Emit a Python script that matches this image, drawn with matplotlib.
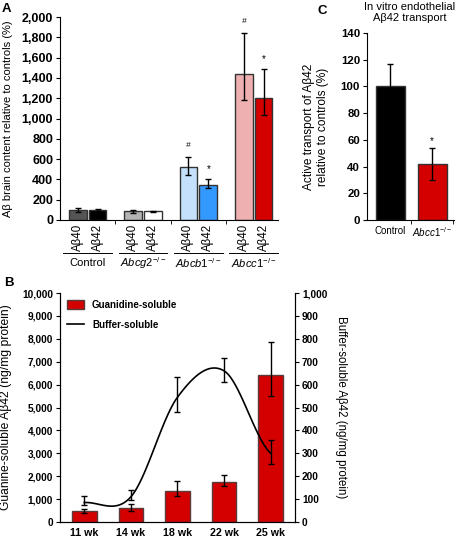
import matplotlib
matplotlib.use('Agg')
import matplotlib.pyplot as plt
import numpy as np
from matplotlib.ticker import FuncFormatter
from matplotlib.patches import Patch
from matplotlib.lines import Line2D
import matplotlib.transforms as mtransforms

plt.rcParams['font.family'] = ['Liberation Sans', 'DejaVu Sans']
plt.rcParams['mathtext.fontset'] = 'custom'
plt.rcParams['mathtext.rm'] = 'Liberation Sans'
plt.rcParams['mathtext.it'] = 'Liberation Sans:italic'
plt.rcParams['font.size'] = 8

# ---- panel A data
groups_a = ['Control', r'$\mathit{Abcg2}^{-/-}$', r'$\mathit{Abcb1}^{-/-}$', r'$\mathit{Abcc1}^{-/-}$']
peptides = ['Aβ40', 'Aβ42']
ab40 = [100, 85, 520, 1440]
ab40_lo = [80, 68, 443, 1180]
ab40_hi = [118, 98, 621, 1839]
ab42 = [100, 85, 348, 1205]
ab42_lo = [90, 78, 312, 1034]
ab42_hi = [112, 92, 400, 1484]
col40 = ['#555555', '#b4b4b4', '#c5e0fa', '#eeb0b0']
col42 = ['#000000', '#ffffff', '#3399ff', '#d40000']
mark40 = ['', '', '#', '#']
mark42 = ['', '', '*', '*']

# ---- panel B data
weeks = ['11 wk', '14 wk', '18 wk', '22 wk', '25 wk']
guan = [470, 600, 1350, 1750, 6400]
guan_lo = [380, 490, 1150, 1560, 5500]
guan_hi = [550, 780, 1770, 2070, 7880]
buf = [85, 110, 545, 660, 300]
buf_lo = [75, 95, 480, 610, 255]
buf_hi = [115, 140, 635, 715, 360]

# ---- panel C data
groups_c = ['Control', r'$\mathit{Abcc1}^{-/-}$']
transport = [100, 42]
transport_err = [17, 12]
col_c = ['#000000', '#d40000']

fig = plt.figure(figsize=(4.58, 5.4), dpi=100)
comma = FuncFormatter(lambda v, p: '{:,.0f}'.format(v))

# ================= A
axA = fig.add_axes([0.131, 0.5926, 0.476, 0.3759])
x = np.arange(len(groups_a))
off = 0.18
w = 0.32
axA.bar(x - off, ab40, w, color=col40, edgecolor='#333333', linewidth=1)
axA.bar(x + off, ab42, w, color=col42, edgecolor='#333333', linewidth=1)
axA.errorbar(x - off, ab40, yerr=[np.array(ab40) - ab40_lo, np.array(ab40_hi) - ab40],
             fmt='none', ecolor='black', elinewidth=1, capsize=2)
axA.errorbar(x + off, ab42, yerr=[np.array(ab42) - ab42_lo, np.array(ab42_hi) - ab42],
             fmt='none', ecolor='black', elinewidth=1, capsize=2)
for i in range(len(x)):
    if mark40[i]:
        axA.annotate(mark40[i], (x[i] - off, ab40_hi[i]), xytext=(0, 6), textcoords='offset points',
                     ha='center', va='bottom', fontsize=6, style='italic')
    if mark42[i]:
        axA.annotate(mark42[i], (x[i] + off, ab42_hi[i]), xytext=(0, 4), textcoords='offset points',
                     ha='center', va='bottom', fontsize=7)
axA.set_xlim(-0.5, 3.44)
axA.set_ylim(0, 2000)
axA.set_yticks(np.arange(0, 2001, 200))
axA.yaxis.set_major_formatter(comma)
axA.set_xticks(np.concatenate([x - off, x + off]))
axA.set_xticklabels(peptides[:1] * 4 + peptides[1:] * 4, rotation=90, fontsize=8.3)
axA.set_xticks(np.arange(0.5, 3.5, 1), minor=True)
axA.tick_params(axis='x', which='major', length=0, pad=3)
axA.tick_params(axis='x', which='minor', length=3, direction='out')
axA.tick_params(axis='y', length=3, direction='out', pad=2, labelsize=9)
for lab in axA.get_yticklabels():
    lab.set_fontweight('bold')
axA.spines['top'].set_visible(False)
axA.spines['right'].set_visible(False)
axA.set_ylabel('Aβ brain content relative to controls (%)', fontsize=8)
axA.yaxis.set_label_coords(-0.215, 0.5)
trA = mtransforms.blended_transform_factory(axA.transData, axA.transAxes)
for i, g in enumerate(groups_a):
    axA.plot([x[i] - 0.44, x[i] + 0.44], [-0.163, -0.163], color='black', lw=0.7,
             transform=trA, clip_on=False)
    axA.text(x[i], -0.212, g, transform=trA, ha='center', va='center', fontsize=8)
fig.text(0.004, 0.994, 'A', fontsize=9.5, fontweight='bold', va='top')

# ================= C
axC = fig.add_axes([0.8013, 0.5926, 0.19, 0.3463])
xc = np.arange(len(groups_c))
axC.bar(xc, transport, 0.7, color=col_c, edgecolor='#333333', linewidth=1)
axC.errorbar(xc, transport, yerr=transport_err, fmt='none', ecolor='black',
             elinewidth=1, capsize=2)
axC.annotate('*', (xc[1], transport[1] + transport_err[1]), xytext=(0, 1),
             textcoords='offset points', ha='center', va='bottom', fontsize=7)
axC.set_xlim(-0.56, 1.52)
axC.set_ylim(0, 140)
axC.set_yticks(np.arange(0, 141, 20))
axC.set_xticks(xc)
axC.set_xticklabels(groups_c, fontsize=7)
axC.set_xticks([0.5, 1.5], minor=True)
axC.tick_params(axis='x', which='major', length=0, pad=4)
axC.tick_params(axis='x', which='minor', length=3, direction='out')
axC.tick_params(axis='y', length=3, direction='out', pad=2, labelsize=8.2)
for lab in axC.get_yticklabels():
    lab.set_fontweight('bold')
axC.spines['top'].set_visible(False)
axC.spines['right'].set_visible(False)
axC.set_ylabel('Active transport of Aβ42\nrelative to controls (%)', fontsize=8.6)
axC.yaxis.set_label_coords(-0.44, 0.5)
axC.text(0.49, 1.11, 'In vitro endothelial\nAβ42 transport', transform=axC.transAxes,
         ha='center', va='center', fontsize=8)
fig.text(0.693, 0.99, 'C', fontsize=9.5, fontweight='bold', va='top')

# ================= B
axB = fig.add_axes([0.131, 0.0333, 0.5131, 0.4241])
xb = np.arange(len(weeks))
axB.bar(xb, guan, 0.53, color='#d40000', edgecolor='#5a3a3a', linewidth=1)
axB.errorbar(xb, guan, yerr=[np.array(guan) - guan_lo, np.array(guan_hi) - guan],
             fmt='none', ecolor='black', elinewidth=1, capsize=2)
axB.set_xlim(-0.52, 4.52)
axB.set_ylim(0, 10000)
axB.set_yticks(np.arange(0, 10001, 1000))
axB.yaxis.set_major_formatter(comma)
axB.set_xticks(xb)
axB.set_xticklabels(weeks, fontweight='bold', fontsize=7.7)
axB.tick_params(axis='x', length=0, pad=4)
axB.tick_params(axis='y', length=3, direction='out', pad=2, labelsize=7.3)
for lab in axB.get_yticklabels():
    lab.set_fontweight('bold')
axB.spines['top'].set_visible(False)
axB.set_ylabel('Guanine-soluble Aβ42 (ng/mg protein)', fontsize=8.7)
axB.yaxis.set_label_coords(-0.205, 0.5)

axB2 = axB.twinx()
# smoothed line (Catmull-Rom through the measured points, like a spreadsheet smooth line)
px = xb.astype(float)
py = np.array(buf, dtype=float)
sx, sy = [], []
for i in range(len(px) - 1):
    p0 = py[max(i - 1, 0)]
    p3 = py[min(i + 2, len(py) - 1)]
    m0 = (py[i + 1] - p0) / 2
    m1 = (p3 - py[i]) / 2
    t = np.linspace(0, 1, 30)
    h00 = 2 * t**3 - 3 * t**2 + 1
    h10 = t**3 - 2 * t**2 + t
    h01 = -2 * t**3 + 3 * t**2
    h11 = t**3 - t**2
    sx.extend(px[i] + t * (px[i + 1] - px[i]))
    sy.extend(h00 * py[i] + h10 * m0 + h01 * py[i + 1] + h11 * m1)
axB2.plot(sx, sy, color='black', lw=1.2)
axB2.errorbar(xb, buf, yerr=[np.array(buf) - buf_lo, np.array(buf_hi) - buf],
              fmt='none', ecolor='black', elinewidth=1, capsize=2)
axB2.set_ylim(0, 1000)
axB2.set_yticks(np.arange(0, 1001, 100))
axB2.yaxis.set_major_formatter(comma)
axB2.tick_params(axis='y', length=3, direction='out', pad=2, labelsize=7.3)
for lab in axB2.get_yticklabels():
    lab.set_fontweight('bold')
axB2.spines['top'].set_visible(False)
axB2.set_ylabel('Buffer-soluble Aβ42 (ng/mg protein)', rotation=270, va='bottom', fontsize=8.3)
axB2.yaxis.set_label_coords(1.17, 0.5)
handles = [Patch(facecolor='#d40000', edgecolor='#5a3a3a'),
           Line2D([0], [0], color='black', lw=1.2)]
axB2.legend(handles, ['Guanidine-soluble', 'Buffer-soluble'], loc='upper left',
            frameon=False, prop={'weight': 'bold', 'size': 7}, handlelength=1.8,
            handleheight=1.0, handletextpad=0.8, borderaxespad=0.3,
            labelspacing=1.0, bbox_to_anchor=(0.0, 1.0))
fig.text(0.008, 0.487, 'B', fontsize=9.5, fontweight='bold', va='top')

fig.savefig('out.png', dpi=100)
